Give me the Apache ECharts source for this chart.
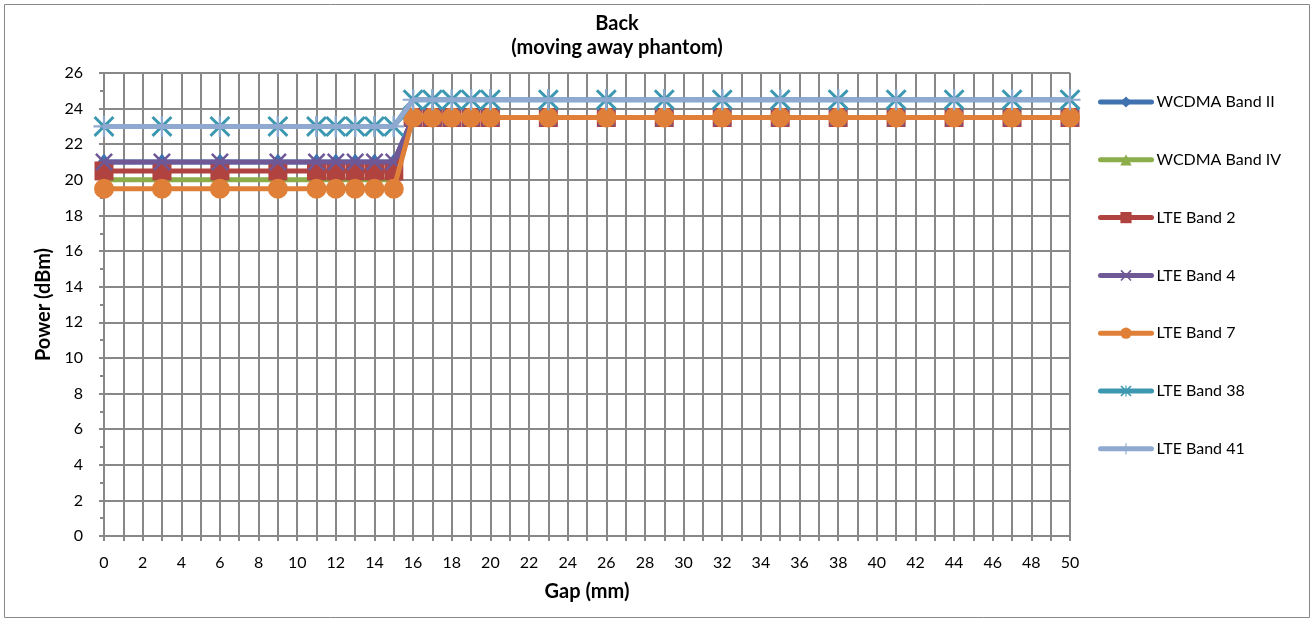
<!DOCTYPE html>
<html>
<head>
<meta charset="utf-8">
<script src="https://cdn.jsdelivr.net/npm/echarts@6/dist/echarts.min.js"></script>
<style>
html,body{margin:0;padding:0;background:#fff;}
#c{width:1314px;height:622px;}
</style>
</head>
<body>
<div id="c"></div>
<script>
// ---- data ----
var gap = [0, 3, 6, 9, 11, 12, 13, 14, 15, 16, 17, 18, 19, 20, 23, 26, 29, 32, 35, 38, 41, 44, 47, 50];
var wcdmaBandII  = [21, 21, 21, 21, 21, 21, 21, 21, 21, 23.5, 23.5, 23.5, 23.5, 23.5, 23.5, 23.5, 23.5, 23.5, 23.5, 23.5, 23.5, 23.5, 23.5, 23.5];
var wcdmaBandIV  = [20, 20, 20, 20, 20, 20, 20, 20, 20, 23.5, 23.5, 23.5, 23.5, 23.5, 23.5, 23.5, 23.5, 23.5, 23.5, 23.5, 23.5, 23.5, 23.5, 23.5];
var lteBand2     = [20.5, 20.5, 20.5, 20.5, 20.5, 20.5, 20.5, 20.5, 20.5, 23.5, 23.5, 23.5, 23.5, 23.5, 23.5, 23.5, 23.5, 23.5, 23.5, 23.5, 23.5, 23.5, 23.5, 23.5];
var lteBand4     = [21, 21, 21, 21, 21, 21, 21, 21, 21, 23.5, 23.5, 23.5, 23.5, 23.5, 23.5, 23.5, 23.5, 23.5, 23.5, 23.5, 23.5, 23.5, 23.5, 23.5];
var lteBand7     = [19.5, 19.5, 19.5, 19.5, 19.5, 19.5, 19.5, 19.5, 19.5, 23.5, 23.5, 23.5, 23.5, 23.5, 23.5, 23.5, 23.5, 23.5, 23.5, 23.5, 23.5, 23.5, 23.5, 23.5];
var lteBand38    = [23, 23, 23, 23, 23, 23, 23, 23, 23, 24.5, 24.5, 24.5, 24.5, 24.5, 24.5, 24.5, 24.5, 24.5, 24.5, 24.5, 24.5, 24.5, 24.5, 24.5];
var lteBand41    = [23, 23, 23, 23, 23, 23, 23, 23, 23, 24.5, 24.5, 24.5, 24.5, 24.5, 24.5, 24.5, 24.5, 24.5, 24.5, 24.5, 24.5, 24.5, 24.5, 24.5];
var seriesNames = ['WCDMA Band II', 'WCDMA Band IV', 'LTE Band 2', 'LTE Band 4', 'LTE Band 7', 'LTE Band 38', 'LTE Band 41'];
var titleLines = ['Back', '(moving away phantom)'];
var xTitle = 'Gap (mm)';
var yTitle = 'Power (dBm)';

// ---- styling ----
var FONT = 'Lato';
var XPATH = 'path://M0,1L1,0L5,4L9,0L10,1L6,5L10,9L9,10L5,6L1,10L0,9L4,5Z';
var STAR = 'path://M0,1L1,0L4.5,3.5L4.5,0L5.5,0L5.5,3.5L9,0L10,1L6,5L10,9L9,10L5.5,6.5L5.5,10L4.5,10L4.5,6.5L1,10L0,9L4,5Z';
var PLUS = 'path://M4.5,0L5.5,0L5.5,4.5L10,4.5L10,5.5L5.5,5.5L5.5,10L4.5,10L4.5,5.5L0,5.5L0,4.5L4.5,4.5Z';

var defs = [
  {data: wcdmaBandII, color: '#3F72AF', symbol: 'diamond', size: [13, 17]},
  {data: wcdmaBandIV, color: '#8BAD4A', symbol: 'triangle', size: 14},
  {data: lteBand2, color: '#B0433F', symbol: 'rect', size: 19},
  {data: lteBand4, color: '#6F5896', symbol: XPATH, size: 18},
  {data: lteBand7, color: '#E07F38', symbol: 'circle', size: 20},
  {data: lteBand38, color: '#3C98B0', symbol: STAR, size: 21},
  {data: lteBand41, color: '#8FA9D0', symbol: PLUS, size: 21}
];

var series = defs.map(function (d, i) {
  return {
    name: seriesNames[i],
    type: 'line',
    data: gap.map(function (g, j) { return [g, d.data[j]]; }),
    symbol: d.symbol,
    symbolSize: d.size,
    showAllSymbol: true,
    lineStyle: {color: d.color, width: 5},
    itemStyle: {color: d.color},
    emphasis: {disabled: true},
    animation: false,
    z: 2 + i
  };
});

var chart = echarts.init(document.getElementById('c'), null, {renderer: 'canvas'});
chart.setOption({
  backgroundColor: '#fff',
  animation: false,
  title: {
    text: titleLines.join('\n'),
    left: 612,
    top: 7,
    textAlign: 'center',
    textStyle: {fontFamily: FONT, fontWeight: 'bold', fontSize: 20, lineHeight: 24, color: '#000'}
  },
  graphic: [{
    type: 'rect',
    shape: {x: 4.5, y: 4.5, width: 1305, height: 613},
    style: {fill: 'none', stroke: '#888', lineWidth: 1},
    silent: true
  }],
  legend: {
    orient: 'vertical',
    left: 1093,
    top: 89,
    itemWidth: 51,
    itemHeight: 14,
    itemGap: 41.8,
    lineStyle: {width: 5, cap: 'round'},
    textStyle: {fontFamily: FONT, fontSize: 16, lineHeight: 14, color: '#000'},
    data: seriesNames
  },
  grid: {left: 104, right: 244, top: 73, bottom: 86, containLabel: false},
  xAxis: {
    type: 'value',
    min: 0, max: 50, interval: 1,
    name: xTitle,
    nameLocation: 'middle',
    nameGap: 46,
    nameTextStyle: {fontFamily: FONT, fontWeight: 'bold', fontSize: 20, color: '#000'},
    axisLine: {lineStyle: {color: '#888', width: 2}},
    axisTick: {show: true, length: 5, lineStyle: {color: '#888', width: 2}},
    axisLabel: {
      fontFamily: FONT, fontSize: 16, color: '#000', margin: 19,
      formatter: function (v) { return v % 2 === 0 ? String(v) : ''; }
    },
    splitLine: {show: true, lineStyle: {color: '#888', width: 2}}
  },
  yAxis: {
    type: 'value',
    min: 0, max: 26, interval: 2,
    name: yTitle,
    nameLocation: 'middle',
    nameGap: 49,
    nameTextStyle: {fontFamily: FONT, fontWeight: 'bold', fontSize: 20, color: '#000'},
    axisLine: {show: true, lineStyle: {color: '#888', width: 2}},
    axisTick: {show: true, length: 5, lineStyle: {color: '#888', width: 2}},
    minorTick: {show: true, splitNumber: 2, length: 4, lineStyle: {color: '#888', width: 2}},
    axisLabel: {fontFamily: FONT, fontSize: 16, color: '#000', margin: 21},
    splitLine: {show: true, lineStyle: {color: '#888', width: 2}}
  },
  series: series
});
</script>
</body>
</html>
